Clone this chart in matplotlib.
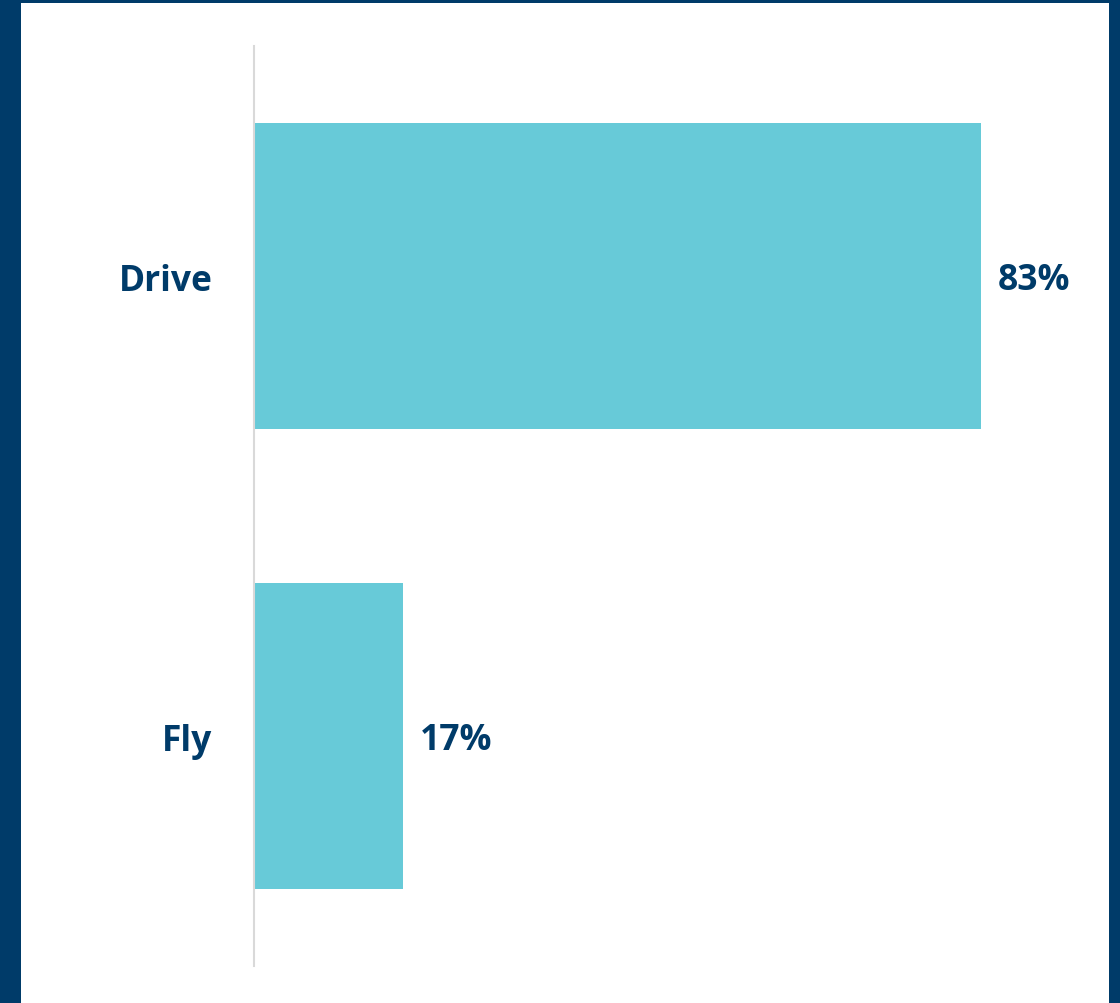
import matplotlib
matplotlib.use("Agg")
import matplotlib.pyplot as plt
from matplotlib.patches import Rectangle

categories = ["Drive", "Fly"]
shares = [83, 17]
value_labels = ["83%", "17%"]

NAVY = "#003B69"
BAR = "#67CAD8"
W, H = 1120, 1004

plt.rcParams["font.family"] = ["Open Sans", "DejaVu Sans"]

fig = plt.figure(figsize=(W / 100, H / 100), dpi=100)
fig.patch.set_facecolor(NAVY)
# white panel inside the navy frame
fig.patches.append(Rectangle((21 / W, 0), (1109 - 21) / W, (H - 4) / H,
                             transform=fig.transFigure, facecolor="white",
                             edgecolor="none", zorder=-5))

ax = fig.add_axes([254 / W, (H - 967) / H, 788.4 / W, 920 / H])
ax.set_zorder(5)
ax.set_facecolor("none")
ypos = list(range(len(categories)))
ax.barh(ypos, shares, height=0.665, color=BAR, zorder=2)
ax.set_xlim(0, 90)
ax.set_ylim(1.5, -0.5)

ax.set_yticks(ypos)
ax.set_yticklabels(categories, fontsize=25.5, fontweight="bold", color=NAVY)
ax.tick_params(axis="y", length=0, pad=30)
ax.set_xticks([])

for s in ["top", "right", "bottom"]:
    ax.spines[s].set_visible(False)
ax.spines["left"].set_color("#D9D9D9")
ax.spines["left"].set_linewidth(1.5)

for y, v, lab in zip(ypos, shares, value_labels):
    ax.annotate(lab, xy=(v, y), xytext=(12, -3), textcoords="offset points",
                ha="left", va="center", fontsize=25.5, fontweight="bold",
                color=NAVY)

fig.savefig("out.png", dpi=100, facecolor=fig.get_facecolor())
